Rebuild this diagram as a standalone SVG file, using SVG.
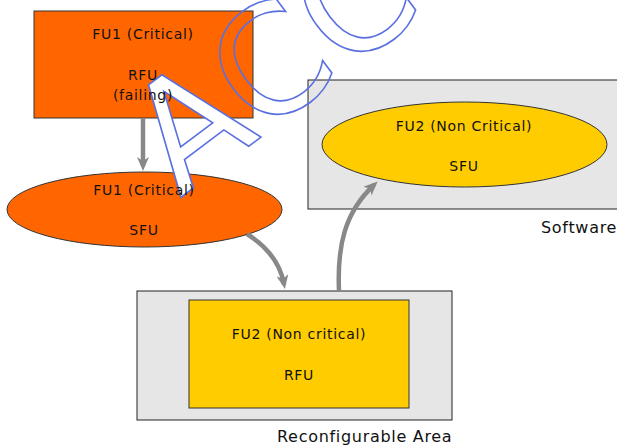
<svg xmlns="http://www.w3.org/2000/svg" width="617" height="446" viewBox="0 0 617 446">
<style>
.lbl{font-family:"DejaVu Sans",sans-serif;font-size:14px;letter-spacing:0.7px;fill:#111;text-anchor:middle}
.area{font-family:"DejaVu Sans",sans-serif;font-size:16px;letter-spacing:0.7px;fill:#111}
.box{fill:#e6e6e6;stroke:#222;stroke-width:1}
.orange{fill:#ff6600;stroke:#333;stroke-width:1}
.yellow{fill:#ffcc00;stroke:#333;stroke-width:1}
.conn{fill:none;stroke:#888;stroke-width:4.5}
.wm{font-family:"DejaVu Sans",sans-serif;font-size:150px;stroke:#5b70e0;stroke-width:1.6}
</style>
<defs>
<marker id="arr" viewBox="0 0 14 12" refX="9" refY="6" markerWidth="14" markerHeight="12" markerUnits="userSpaceOnUse" orient="auto">
<path d="M0,0 L14,6 L0,12 L4,6 z" fill="#888"/>
</marker>
</defs>
<rect width="617" height="446" fill="#fff"/>
<g id="software-area">
<rect class="box" x="308" y="80" width="312" height="129"/>
<text class="area" x="541" y="233">Software</text>
</g>
<g id="reconfigurable-area">
<rect class="box" x="137" y="291" width="315" height="129"/>
<text class="area" x="277" y="442">Reconfigurable Area</text>
</g>
<g id="fu2-sfu">
<ellipse class="yellow" cx="464.5" cy="144.5" rx="142.5" ry="42.5"/>
<text class="lbl" x="464" y="131">FU2 (Non Critical)</text>
<text class="lbl" x="464" y="171">SFU</text>
</g>
<g id="fu2-rfu">
<rect class="yellow" x="189" y="300" width="220" height="108"/>
<text class="lbl" x="299" y="339">FU2 (Non critical)</text>
<text class="lbl" x="299" y="380">RFU</text>
</g>
<g id="fu1-rfu">
<rect class="orange" x="34" y="11" width="219" height="107"/>
</g>
<g id="fu1-sfu">
<ellipse class="orange" cx="144.5" cy="209.5" rx="137.5" ry="37.5"/>
</g>
<g id="connectors">
<path class="conn" d="M143,118 L143,166" marker-end="url(#arr)"/>
<path class="conn" d="M247,234 C266,246 280,262 284,284" marker-end="url(#arr)"/>
<path class="conn" d="M339,291 C337,245 345,212 374,185" marker-end="url(#arr)"/>
</g>
<g id="watermark">
<text class="wm" transform="translate(180,198) rotate(-37)"><tspan fill="#fff">A</tspan><tspan fill="none">CC</tspan></text>
</g>
<g id="fu1-rfu-label">
<text class="lbl" x="143" y="39">FU1 (Critical)</text>
<text class="lbl" x="143" y="80">RFU</text>
<text class="lbl" x="143" y="100">(failing)</text>
</g>
<g id="fu1-sfu-label">
<text class="lbl" x="144" y="195">FU1 (Critical)</text>
<text class="lbl" x="144" y="235">SFU</text>
</g>
</svg>
